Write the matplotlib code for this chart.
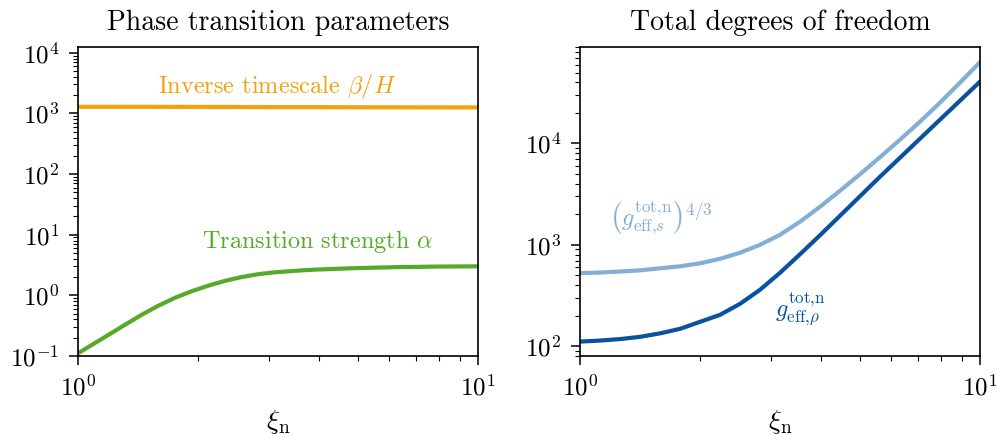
import numpy as np
import matplotlib
matplotlib.use("Agg")
import matplotlib.pyplot as plt
from matplotlib.ticker import LogLocator, NullFormatter

plt.rcParams['font.family'] = 'serif'
plt.rcParams['font.serif'] = ['cmr10', 'DejaVu Serif']
plt.rcParams['mathtext.fontset'] = 'cm'
plt.rcParams['axes.formatter.use_mathtext'] = True
plt.rcParams['axes.unicode_minus'] = False

# ---- data ----
# left panel
xi_beta = [1.0, 1.5, 2.0, 2.5, 3.0, 4.0, 5.0, 7.0, 10.0]
beta_over_H = [1285, 1283, 1280, 1276, 1272, 1267, 1262, 1258, 1256]

xi_alpha = [1.0, 1.084, 1.193, 1.312, 1.445, 1.591, 1.750, 1.928, 2.12, 2.333,
            2.57, 2.83, 3.08, 3.66, 3.98, 4.61, 5.01, 6.31, 7.94, 10.0]
alpha = [0.111, 0.153, 0.224, 0.329, 0.481, 0.679, 0.914, 1.175, 1.449, 1.738,
         2.009, 2.239, 2.388, 2.594, 2.667, 2.767, 2.818, 2.924, 2.983, 3.013]

# right panel
xi_g = [1.0, 1.122, 1.259, 1.413, 1.585, 1.778, 1.995, 2.239, 2.512, 2.818, 3.162,
        3.548, 3.981, 4.467, 5.012, 5.623, 6.310, 7.079, 7.943, 8.913, 10.0]
g_s_43 = [525.5, 532.8, 545.0, 560.1, 586.1, 613.5, 656.8, 727.6, 833.7, 1000, 1255,
          1687, 2372, 3413, 4966, 7308, 10880, 16380, 25220, 39730, 63340]
g_rho = [111.0, 113.6, 117.5, 123.6, 133.8, 148.2, 173.8, 203.7, 261.6, 359.6, 529.2,
         805.6, 1241, 1933, 3012, 4692, 7224, 11130, 17140, 26390, 40650]

c_orange = '#f4a10c'
c_green = '#56aa2a'
c_light = '#85aed6'
c_dark = '#0a52a0'

fig = plt.figure(figsize=(9.96, 4.34), dpi=100)
ax1 = fig.add_axes([0.0783, 0.1797, 0.4016, 0.7127])
ax2 = fig.add_axes([0.5823, 0.1797, 0.4016, 0.7127])

ax1.plot(xi_beta, beta_over_H, color=c_orange, lw=3)
ax1.plot(xi_alpha, alpha, color=c_green, lw=3)
ax1.set_xscale('log')
ax1.set_yscale('log')
ax1.set_xlim(1, 10)
ax1.set_ylim(1e-1, 10**4.1)
ax1.set_title('Phase transition parameters', fontsize=20, pad=12)
ax1.text(0.499, 0.871, r'Inverse timescale $\beta/H$', color=c_orange,
         fontsize=17.5, ha='center', va='center', transform=ax1.transAxes)
ax1.text(0.5995, 0.370, r'Transition strength $\alpha$', color=c_green,
         fontsize=17.5, ha='center', va='center', transform=ax1.transAxes)

ax2.plot(xi_g, g_s_43, color=c_light, lw=3)
ax2.plot(xi_g, g_rho, color=c_dark, lw=3)
ax2.set_xscale('log')
ax2.set_yscale('log')
ax2.set_xlim(1, 10)
ax2.set_ylim(80, 9e4)
ax2.set_title('Total degrees of freedom', fontsize=20, pad=12)
ax2.text(0.201, 0.446,
         r'$\left(g_{\mathrm{eff}{,}s}^{\mathrm{tot{,}n}}\right)^{4/3}$',
         color=c_light, fontsize=17.5, ha='center', va='center', transform=ax2.transAxes)
ax2.text(0.55, 0.152, r'$g_{\mathrm{eff}{,}\rho}^{\mathrm{tot{,}n}}$',
         color=c_dark, fontsize=17.5, ha='center', va='center', transform=ax2.transAxes)

for ax in (ax1, ax2):
    ax.set_xlabel(r'$\xi_{\mathrm{n}}$', fontsize=20, labelpad=5)
    ax.xaxis.set_minor_formatter(NullFormatter())
    ax.yaxis.set_minor_formatter(NullFormatter())
    ax.yaxis.set_minor_locator(LogLocator(base=10, subs=np.arange(2, 10), numticks=20))
    ax.tick_params(which='major', length=6.5, width=1.1, labelsize=18, direction='out', pad=7)
    ax.tick_params(which='minor', length=3.5, width=0.8, direction='out')
    for s in ax.spines.values():
        s.set_linewidth(1.2)

fig.savefig('out.png', dpi=100)
